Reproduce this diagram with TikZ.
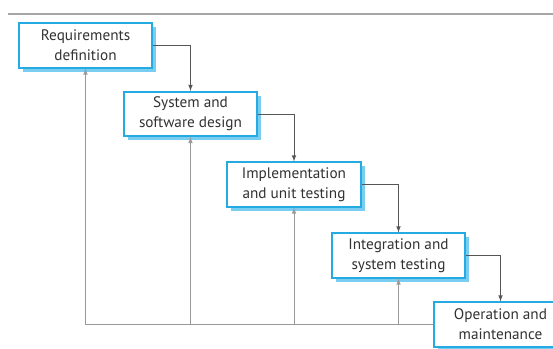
\documentclass[tikz,border=0pt]{standalone}
\usepackage{fontspec}
\setmainfont{PT Sans}
\usetikzlibrary{shadows}
\definecolor{boxblue}{RGB}{38,170,226}
\definecolor{shadeblue}{RGB}{120,205,240}
\definecolor{linegray}{RGB}{85,85,85}
\definecolor{textgray}{RGB}{50,50,50}
\tikzset{
  phase/.style={draw=boxblue, line width=1.6pt, fill=white, align=center,
    minimum width=4.0cm, minimum height=1.33cm, text=textgray,
    font=\fontsize{13}{17}\selectfont,
    drop shadow={shadow xshift=.12cm, shadow yshift=-.12cm, fill=shadeblue, opacity=1}},
  flow/.style={->, draw=linegray, line width=.8pt},
  back/.style={->, draw=gray!80, line width=.8pt}
}
\begin{document}
\begin{tikzpicture}[>=latex, x=0.03cm, y=-0.03cm]
  \useasboundingbox (0,0) rectangle (553,349);
  \clip (0,0) rectangle (553,349);
  \draw[gray!70, line width=1.1pt] (8,14) -- (553,14);

  \node[phase] (req) at (85.5,45.5) {Requirements\\definition};
  \node[phase] (des) at (190.5,114) {System and\\software design};
  \node[phase] (imp) at (294,184.5) {Implementation\\and unit testing};
  \node[phase] (int) at (398.5,255.5) {Integration and\\system testing};
  \node[phase] (ope) at (500.5,324.5) {Operation and\\maintenance};

  % down the waterfall
  \draw[flow] (req.east) -| (des.north);
  \draw[flow] (des.east) -| (imp.north);
  \draw[flow] (imp.east) -| (int.north);
  \draw[flow] (int.east) -| (ope.north);

  % feedback
  \draw[back] (ope.west) -| (req.south);
  \draw[back] (des.south |- ope.west) -- (des.south);
  \draw[back] (imp.south |- ope.west) -- (imp.south);
  \draw[back] (int.south |- ope.west) -- (int.south);
\end{tikzpicture}
\end{document}
